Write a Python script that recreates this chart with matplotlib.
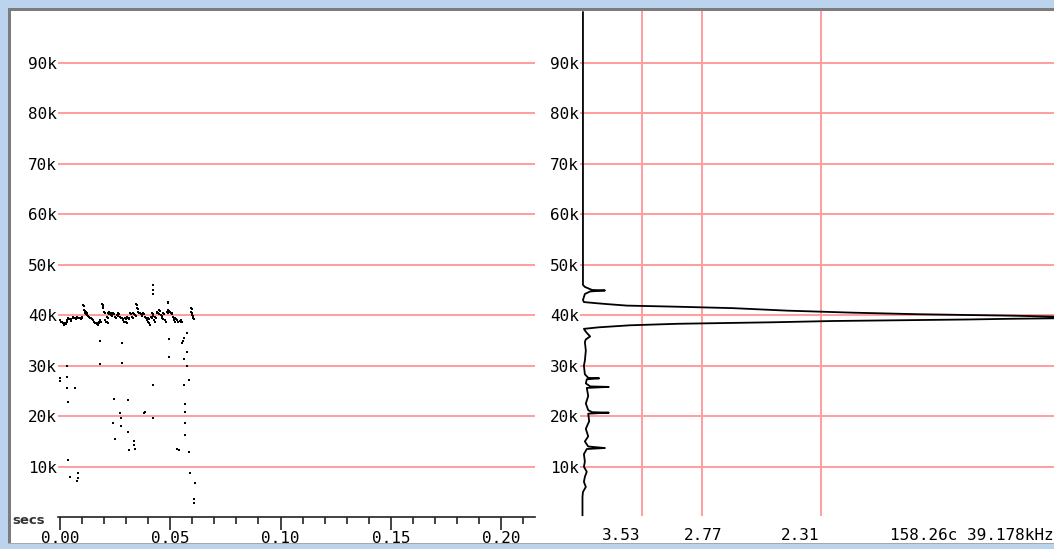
import matplotlib
matplotlib.use('Agg')
import matplotlib.pyplot as plt
from matplotlib.patches import Rectangle
import numpy as np

# call trace: time (ms) vs frequency (kHz)
band_ms = [0.0, 0.8, 1.5, 2.3, 3.0, 3.8, 4.8, 5.7, 6.8, 7.9, 9.1, 9.8, 10.6, 10.9, 11.3, 11.8,
           12.4, 13.3, 13.9, 14.8, 15.4, 16.3, 16.9, 17.5, 18.1, 18.9, 19.3, 20.0, 20.6, 21.2,
           21.5, 21.9, 22.4, 23.0, 23.6, 24.2, 24.9, 25.7, 26.5, 27.2, 28.0, 28.7, 29.5, 29.9,
           30.5, 31.1, 31.7, 32.5, 33.3, 34.0, 34.5, 34.8, 35.5, 36.3, 37.0, 37.8, 38.5, 39.3,
           40.1, 40.5, 41.1, 41.6, 42.0, 42.6, 43.2, 43.8, 44.6, 45.0, 45.7, 46.1, 46.9, 47.5,
           48.4, 48.8, 49.1, 49.9, 50.6, 51.1, 51.7, 52.3, 52.9, 54.4, 55.0, 59.3, 59.6, 59.9, 60.2]
band_khz = [39.0, 38.7, 38.4, 38.5, 39.0, 39.4, 39.2, 39.6, 39.4, 39.7, 39.4, 39.7, 42.0, 41.0, 40.4, 40.7,
            40.0, 39.7, 39.4, 39.0, 38.7, 38.5, 38.4, 38.7, 39.0, 42.3, 41.7, 40.7, 39.0, 38.7,
            39.7, 40.4, 40.7, 40.0, 40.4, 40.5, 39.7, 40.0, 40.4, 39.7, 39.4, 39.0, 39.4, 38.7,
            39.7, 39.4, 40.4, 39.7, 40.4, 40.0, 42.3, 41.4, 40.7, 40.4, 40.0, 40.4, 39.7, 39.0,
            39.4, 38.4, 39.7, 40.4, 40.0, 39.0, 39.7, 40.7, 40.4, 41.0, 40.0, 39.4, 40.4, 39.0,
            40.7, 42.7, 41.0, 40.7, 40.4, 39.7, 39.0, 39.4, 39.0, 38.9, 39.0, 41.4, 40.7, 40.0, 39.4]

stray_ms = [42.3, 42.3, 42.3, 18.1, 18.1, 28.0, 28.0, 49.6, 49.6, 55.6, 55.2, 56.2, 57.4, 57.7,
            56.2, 57.7, 58.4, 56.2, 56.8, 56.8, 56.8, 56.8, 58.4, 53.2, 53.8, 59.0, 61.2, 60.8,
            60.8, 0.0, 0.0, 3.0, 3.0, 3.0, 3.8, 6.8, 3.8, 4.5, 7.6, 8.0, 8.3, 24.5, 24.2, 24.9,
            27.2, 27.5, 27.5, 31.0, 31.0, 31.4, 33.6, 33.6, 33.9, 38.1, 38.7, 42.0, 42.0]
stray_khz = [46.0, 45.0, 44.2, 34.8, 30.3, 34.4, 30.6, 35.2, 31.7, 34.8, 34.4, 35.4, 36.5, 32.8,
             31.3, 29.9, 27.2, 26.2, 22.5, 20.9, 18.6, 16.3, 13.0, 13.6, 13.3, 8.7, 6.7, 3.7,
             2.9, 27.5, 27.0, 27.8, 29.9, 25.5, 22.9, 25.6, 11.3, 7.9, 7.2, 7.7, 8.8, 23.5, 18.6, 15.5,
             20.6, 18.1, 19.7, 23.2, 16.8, 13.3, 15.0, 14.3, 13.6, 20.7, 20.9, 26.2, 19.6]

# spectrum: frequency (kHz) vs relative amplitude
spec_khz = [100.0, 46.0, 45.6, 45.0, 44.9, 44.7, 44.2, 43.0, 42.6, 42.4, 42.2, 41.9, 41.7, 41.4,
            40.9, 40.5, 40.2, 39.9, 39.7, 39.55, 39.4, 39.3, 39.15, 38.85, 38.6, 38.3, 38.0, 37.6,
            37.3, 37.0, 36.5, 35.8, 35.2, 34.7, 33.0, 31.0, 30.0, 28.3, 27.6, 27.5, 27.3, 26.5,
            25.9, 25.8, 25.6, 24.0, 22.5, 21.2, 20.8, 20.7, 20.5, 19.0, 17.5, 16.0, 15.0, 14.0,
            13.7, 13.5, 12.5, 11.0, 10.0, 9.0, 8.0, 7.0, 6.0, 5.0, 4.0, 0.4]
spec_amp = [0.002, 0.002, 0.006, 0.021, 0.048, 0.017, 0.006, 0.002, 0.004, 0.027, 0.052, 0.094,
            0.19, 0.315, 0.43, 0.567, 0.70, 0.90, 1.0, 1.5, 1.0, 0.903, 0.807, 0.525,
            0.40, 0.20, 0.10, 0.035, 0.004, 0.006, 0.010, 0.017, 0.008, 0.006, 0.008, 0.006,
            0.004, 0.006, 0.013, 0.036, 0.010, 0.008, 0.017, 0.056, 0.010, 0.013, 0.008, 0.013,
            0.021, 0.056, 0.013, 0.015, 0.008, 0.013, 0.006, 0.013, 0.048, 0.010, 0.004, 0.006,
            0.004, 0.010, 0.006, 0.004, 0.008, 0.002, 0.001, 0.001]

amp_grid = [0.125, 0.25, 0.5]
freq_ticks = [10, 20, 30, 40, 50, 60, 70, 80, 90]
freq_labels = ['10k', '20k', '30k', '40k', '50k', '60k', '70k', '80k', '90k']
time_ticks = [0.00, 0.05, 0.10, 0.15, 0.20]
time_labels = ['0.00', '0.05', '0.10', '0.15', '0.20']
bottom_labels = ['3.53', '2.77', '2.31', '158.26c 39.178kHz']

W, H = 1054, 549
GRID = '#ff9d9d'
MONO = 'DejaVu Sans Mono'

fig = plt.figure(figsize=(W / 100, H / 100), dpi=100)
fig.patch.set_facecolor('white')

def fx(px):
    return px / W

def fy(py):
    return 1 - py / H

y0_px, ytop_px = 517.2, 11.0
ymax = (y0_px - ytop_px) / 5.05

# left panel: time vs frequency
axL = fig.add_axes([fx(58), fy(y0_px), fx(535 - 58), (y0_px - ytop_px) / H])
axL.set_xlim(-0.0009, 0.2154)
axL.set_ylim(0, ymax)
for f in freq_ticks:
    axL.axhline(f, color=GRID, lw=1.4, zorder=1)
axL.plot(np.array(band_ms) / 1000, band_khz, ls='none', marker='s', ms=1.7, mew=0,
         color='black', zorder=3)
axL.plot(np.array(band_ms) / 1000 + 0.0004, np.array(band_khz) - 0.25, ls='none', marker='s',
         ms=1.5, mew=0, color='black', zorder=3)
axL.plot(np.array(stray_ms) / 1000, stray_khz, ls='none', marker='s', ms=1.6, mew=0,
         color='black', zorder=3)
for s in ['top', 'right', 'left']:
    axL.spines[s].set_visible(False)
axL.spines['bottom'].set_color('#222222')
axL.spines['bottom'].set_linewidth(1.2)
axL.set_xticks(time_ticks)
axL.set_xticklabels(time_labels, fontfamily=MONO, fontsize=11.5)
axL.set_xticks(np.arange(0, 0.215, 0.01), minor=True)
axL.tick_params(axis='x', which='major', direction='out', length=9, width=1.2, pad=1,
                color='#222222')
axL.tick_params(axis='x', which='minor', direction='out', length=5, width=1.2, color='#222222')
axL.set_yticks(freq_ticks)
axL.set_yticklabels(freq_labels, fontfamily=MONO, fontsize=11.5)
axL.tick_params(axis='y', length=0, pad=1)
axL.set_facecolor('none')
fig.text(fx(12), fy(521), 'secs', fontsize=9.5, fontweight='bold', ha='left', va='center',
         color='#333333')

# right panel: spectrum
axR = fig.add_axes([fx(580), fy(y0_px), fx(W - 580), (y0_px - ytop_px) / H])
xr0 = -2.0 / 478
axR.set_xlim(xr0, xr0 + (W - 580) / 478)
axR.set_ylim(0, ymax)
for f in freq_ticks:
    axR.axhline(f, color=GRID, lw=1.4, zorder=1)
for a in amp_grid:
    axR.axvline(a, ymin=(517.2 - 515) / (y0_px - ytop_px), color=GRID, lw=1.4, zorder=1)
axR.plot(spec_amp, spec_khz, color='black', lw=1.3, zorder=3)
for s in ['top', 'right', 'left', 'bottom']:
    axR.spines[s].set_visible(False)
axR.set_xticks([])
axR.set_yticks(freq_ticks)
axR.set_yticklabels(freq_labels, fontfamily=MONO, fontsize=11.5)
axR.tick_params(axis='y', length=0, pad=1)
axR.set_facecolor('none')

label_x = [640, 722, 819, 1054]
for lbl, px in zip(bottom_labels, label_x):
    fig.text(fx(px), fy(535), lbl, fontfamily=MONO, fontsize=11.5, ha='right', va='center')

# window frame
frame = [
    (0, 0, W, 8, '#bcd3ee'),
    (0, 0, 8, H, '#bcd3ee'),
    (0, H - 5, W, 5, '#bcd3ee'),
    (8, 8, W - 8, 3, '#7c7c7c'),
    (8, 8, 2.5, H - 13, '#7c7c7c'),
    (8, H - 6, W - 8, 1, '#a8a8a8'),
]
for x, y, w, h, c in frame:
    fig.patches.append(Rectangle((fx(x), fy(y + h)), fx(w), h / H, transform=fig.transFigure,
                                 facecolor=c, edgecolor='none', zorder=10))

fig.savefig('out.png', dpi=100)
